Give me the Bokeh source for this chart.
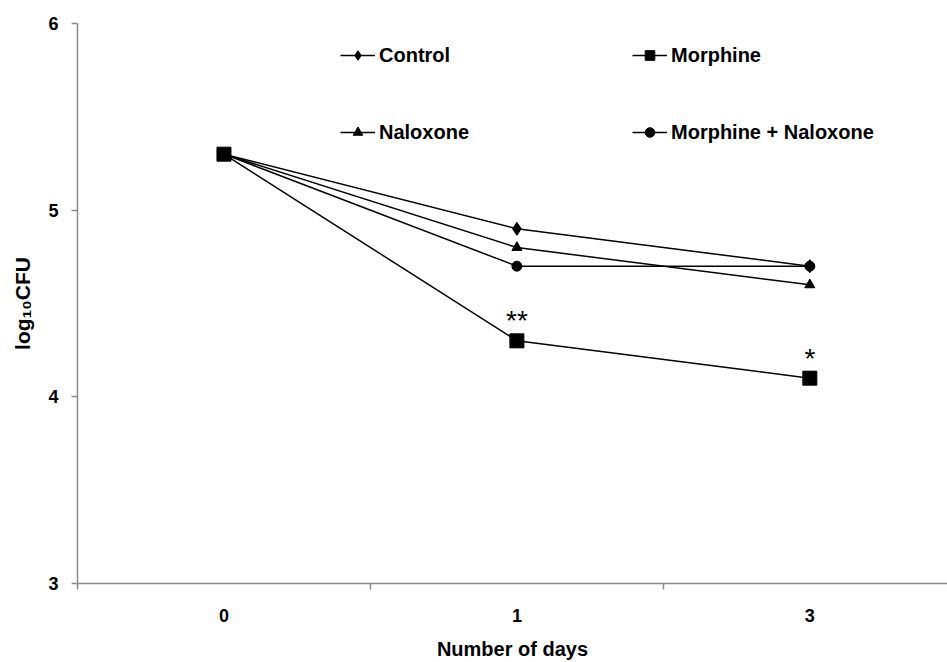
import numpy as np
from bokeh.plotting import figure
from bokeh.models import (Range1d, FixedTicker, CustomJSTickFormatter, Legend,
                          LegendItem, ColumnDataSource)
from bokeh.core.properties import value
from bokeh.embed import file_html
from bokeh.resources import INLINE

# ---- data ----
categories = ["0", "1", "3"]            # number of days
control = [5.3, 4.9, 4.7]
morphine = [5.3, 4.3, 4.1]
naloxone = [5.3, 4.8, 4.6]
morphine_naloxone = [5.3, 4.7, 4.7]
y_ticks = [3, 4, 5, 6]
sig_days = ["1", "3"]
sig_marks = ["**", "*"]

FONT = "Liberation Sans"
AXIS_GREY = "#8a8a8a"

xpos = [i + 0.5 for i in range(len(categories))]

p = figure(width=947, height=662, output_backend="svg", toolbar_location=None,
           x_range=Range1d(0, 2.97), y_range=Range1d(3, 6),
           min_border_left=77, min_border_right=0, min_border_top=23,
           min_border_bottom=77)
p.outline_line_color = None
p.grid.visible = False
p.background_fill_color = "white"
p.border_fill_color = "white"

# x axis (category labels centered, separator ticks between)
xa = p.xaxis[0]
xa.ticker = FixedTicker(ticks=xpos, minor_ticks=[0, 1, 2, 3])
xa.formatter = CustomJSTickFormatter(args=dict(labels=categories),
                                     code="return labels[Math.floor(tick)];")
xa.major_tick_out = 0
xa.major_tick_in = 0
xa.minor_tick_out = 6
xa.minor_tick_in = 0
xa.axis_label = "Number of days"
xa.major_label_standoff = 19
xa.axis_label_standoff = 13

ya = p.yaxis[0]
ya.ticker = FixedTicker(ticks=y_ticks, minor_ticks=[])
ya.major_tick_out = 6
ya.major_tick_in = 0
ya.axis_label = "log\u2081\u2080CFU"
ya.major_label_standoff = 13
ya.axis_label_standoff = 11

for ax in (xa, ya):
    ax.axis_line_color = AXIS_GREY
    ax.axis_line_width = 1.5
    ax.major_tick_line_color = AXIS_GREY
    ax.major_tick_line_width = 1.5
    ax.minor_tick_line_color = AXIS_GREY
    ax.minor_tick_line_width = 1.5
    ax.major_label_text_font = FONT
    ax.major_label_text_font_size = "18px"
    ax.major_label_text_font_style = "bold"
    ax.major_label_text_color = "black"
    ax.axis_label_text_font = FONT
    ax.axis_label_text_font_style = "bold"
    ax.axis_label_text_color = "black"
xa.axis_label_text_font_size = "20px"
ya.axis_label_text_font_size = "21px"

def series(vals, marker, size):
    src = ColumnDataSource(dict(x=xpos, y=vals))
    ln = p.line("x", "y", source=src, line_color="black", line_width=1.5)
    sc = p.scatter("x", "y", source=src, marker=marker, size=size,
                   fill_color="black", line_color="black")
    return ln, sc

c_l, c_s = series(control, "diamond", 13)
n_l, n_s = series(naloxone, "triangle", 10)
mn_l, mn_s = series(morphine_naloxone, "circle", 10)
m_l, m_s = series(morphine, "square", 14)

# significance asterisks above morphine points
sig_x = [xpos[categories.index(d)] for d in sig_days]
sig_y = [morphine[categories.index(d)] for d in sig_days]
p.text(x=sig_x, y=sig_y, text=sig_marks, text_font=value(FONT),
       text_font_size="28px", text_align="center", text_baseline="alphabetic",
       y_offset=-20, text_color="black")

def make_legend(items, loc):
    lg = Legend(items=items, location=loc, orientation="vertical", padding=0,
                margin=0, spacing=53, glyph_width=35, glyph_height=24,
                label_height=24, label_standoff=4,
                label_text_font=FONT, label_text_font_size="20px",
                label_text_font_style="bold", label_text_color="black",
                border_line_color=None, background_fill_alpha=0)
    p.add_layout(lg)

make_legend([LegendItem(label="Control", renderers=[c_l, c_s]),
             LegendItem(label="Naloxone", renderers=[n_l, n_s])], (263, 439))
make_legend([LegendItem(label="Morphine", renderers=[m_l, m_s]),
             LegendItem(label="Morphine + Naloxone", renderers=[mn_l, mn_s])],
            (555, 439))

open("out.html", "w").write(file_html(p, INLINE))
